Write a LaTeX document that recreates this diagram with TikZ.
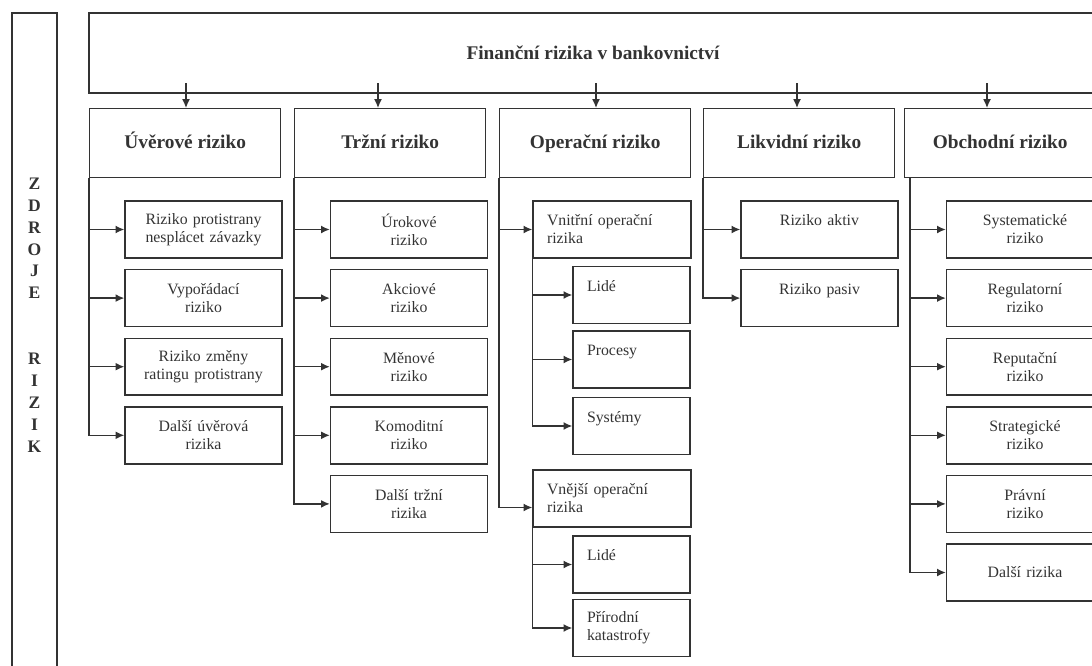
\documentclass[tikz,border=0pt]{standalone}
\usepackage{fontspec}
\setmainfont{Liberation Serif}
\usetikzlibrary{arrows.meta}

\begin{document}
\begin{tikzpicture}[x=0.02cm,y=-0.02cm, line width=0.8pt, color=black!80,
  hdr/.style={draw, minimum width=3.82cm, minimum height=1.38cm, text height=1.6ex, text depth=0.3ex, anchor=north west, font=\fontsize{11}{12}\selectfont\bfseries},
  sub/.style={draw, inner sep=0pt, text width=3.14cm, minimum height=1.14cm, align=center, font=\fontsize{9}{10.3}\selectfont},
  opa/.style={sub, inner xsep=0.28cm, text width=2.6cm, align=left},
  opb/.style={sub, inner xsep=0.28cm, text width=1.78cm, align=left},
  arr/.style={-{Latex[length=5pt,width=4.5pt]}}]
\useasboundingbox (0,0) rectangle (1092,666);
\clip (0,0) rectangle (1092,666);
% left bar
\draw (12,13) rectangle (57,700);
\node[font=\fontsize{10}{12.47}\selectfont\bfseries, align=center, inner sep=0pt] (zdroje) at (34.5,315) {Z\\D\\R\\O\\J\\E\\~\\~\\R\\I\\Z\\I\\K};
% top box and main categories
\node[draw, minimum width=20.16cm, minimum height=1.6cm, font=\fontsize{11}{12}\selectfont\bfseries] (fin) at (593,53) {Finanční rizika v bankovnictví};
\node[hdr] (k1) at (89,108) {Úvěrové riziko};
\node[hdr] (k2) at (294,108) {Tržní riziko};
\node[hdr] (k3) at (499,108) {Operační riziko};
\node[hdr] (k4) at (703,108) {Likvidní riziko};
\node[hdr] (k5) at (904,108) {Obchodní riziko};
\coordinate (a1) at (186,83);
\coordinate (a2) at (378,83);
\coordinate (a3) at (596,83);
\coordinate (a4) at (797,83);
\coordinate (a5) at (987,83);
\foreach \i in {1,...,5} \draw[arr] (a\i) -- (a\i |- k\i.north);
% uverove
\foreach \txt [count=\i] in {{Riziko protistrany\\nesplácet závazky},{Vypořádací\\riziko},{Riziko změny\\ratingu protistrany},{Další úvěrová\\rizika}}{
  \node[sub] (u\i) at (203.5,{229.5+68.6*(\i-1)}) {\txt};
  \draw[arr] (k1.south west) |- (u\i.west);
}
% trzni
\foreach \txt [count=\i] in {{Úrokové\\riziko},{Akciové\\riziko},{Měnové\\riziko},{Komoditní\\riziko},{Další tržní\\rizika}}{
  \node[sub] (t\i) at (409,{229.5+68.6*(\i-1)}) {\txt};
  \draw[arr] (k2.south west) |- (t\i.west);
}
% operacni
\node[opa] (vni) at (612,229.5) {Vnitřní operační\\rizika};
\draw[arr] (k3.south west) |- (vni.west);
\node[opb] (vnl) at (631.5,295) {Lidé\\~};
\node[opb] (vnp) at (631.5,359.5) {Procesy\\~};
\node[opb] (vns) at (631.5,426) {Systémy\\~};
\foreach \n in {vnl,vnp,vns} \draw[arr] (vni.south west) |- (\n.west);
\node[opa] (vne) at (612,498.5) {Vnější operační\\rizika};
\draw[arr] (k3.south west) |- ([yshift=-0.18cm]vne.west);
\node[opb] (vel) at (631.5,564.5) {Lidé\\~};
\node[opb] (vep) at (631.5,628) {Přírodní\\katastrofy};
\foreach \n in {vel,vep} \draw[arr] (vne.south west) |- (\n.west);
% likvidni
\foreach \txt [count=\i] in {{Riziko aktiv\\~},{Riziko pasiv\\~}}{
  \node[sub] (l\i) at (819.5,{229.5+68.6*(\i-1)}) {\txt};
  \draw[arr] (k4.south west) |- (l\i.west);
}
% obchodni
\foreach \txt [count=\i] in {{Systematické\\riziko},{Regulatorní\\riziko},{Reputační\\riziko},{Strategické\\riziko},{Právní\\riziko},{Další rizika}}{
  \node[sub] (o\i) at (1025,{229.5+68.6*(\i-1)}) {\txt};
  \draw[arr] ([xshift=0.12cm]k5.south west) |- (o\i.west);
}
\end{tikzpicture}
\end{document}
